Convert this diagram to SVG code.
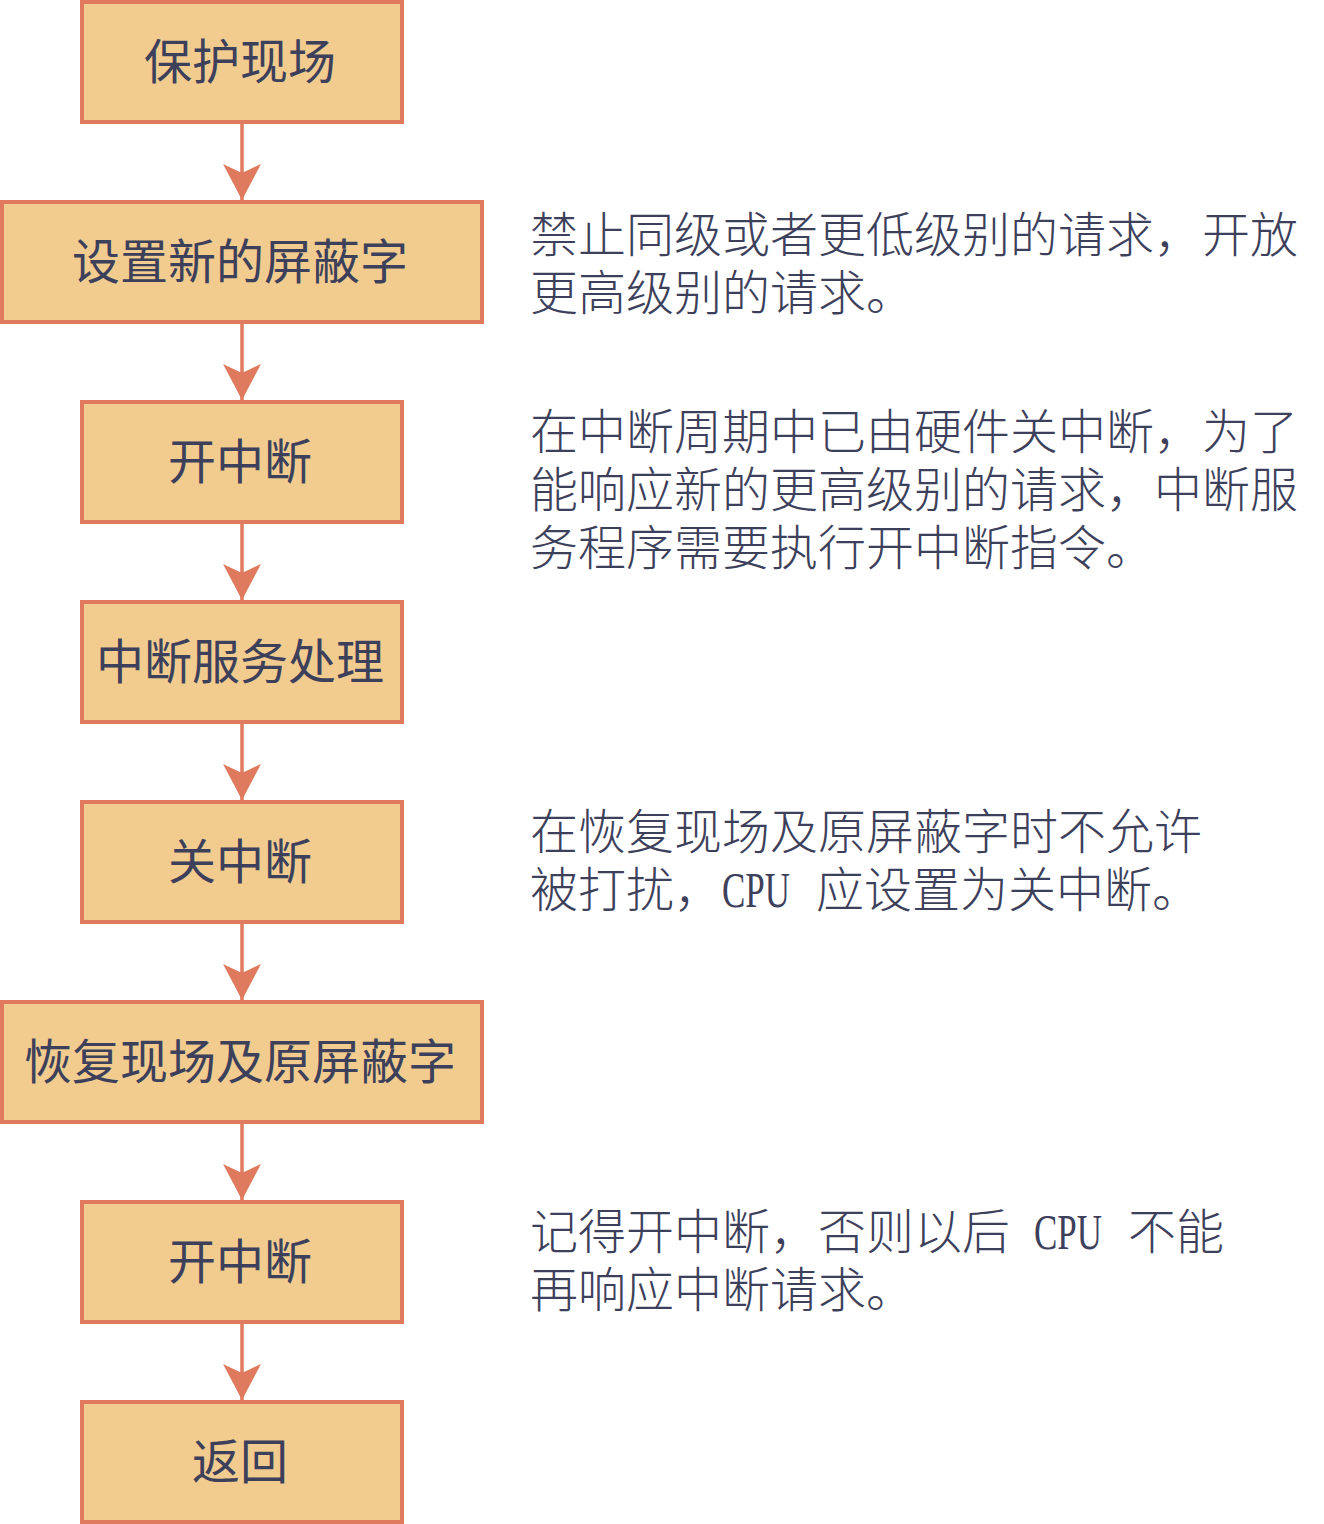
<svg xmlns="http://www.w3.org/2000/svg" width="1324" height="1524" viewBox="0 0 1324 1524">
<style>
.box{fill:#F2CC8F;stroke:#E07A5F;stroke-width:4}
.lbl{font-family:"Noto Sans CJK SC","Noto Sans",sans-serif;font-size:48px;fill:#3D405B;text-anchor:middle}
.note{font-family:"Noto Sans CJK SC","Noto Sans",sans-serif;font-size:48px;font-weight:300;fill:#3D405B}
.lat{font-family:"Liberation Serif",serif;font-size:50px;font-weight:400}
.conn{stroke:#E07A5F;stroke-width:3.5;fill:none;marker-end:url(#ah)}
</style>
<defs>
<marker id="ah" markerUnits="userSpaceOnUse" markerWidth="40" markerHeight="40" refX="0" refY="0" orient="auto" overflow="visible">
<path d="M0,0 L-36,-19 L-27,0 L-36,19 Z" fill="#E07A5F"/>
</marker>
</defs>
<rect width="1324" height="1524" fill="#FFFFFF"/>
<g id="connectors">
<line class="conn" x1="242" y1="124" x2="242" y2="200"/>
<line class="conn" x1="242" y1="324" x2="242" y2="400"/>
<line class="conn" x1="242" y1="524" x2="242" y2="600"/>
<line class="conn" x1="242" y1="724" x2="242" y2="800"/>
<line class="conn" x1="242" y1="924" x2="242" y2="1000"/>
<line class="conn" x1="242" y1="1124" x2="242" y2="1200"/>
<line class="conn" x1="242" y1="1324" x2="242" y2="1400"/>
</g>
<g id="n1"><rect class="box" x="82" y="2" width="320" height="120"/><text class="lbl" x="240" y="79">保护现场</text></g>
<g id="n2"><rect class="box" x="2" y="202" width="480" height="120"/><text class="lbl" x="240" y="279">设置新的屏蔽字</text></g>
<g id="n3"><rect class="box" x="82" y="402" width="320" height="120"/><text class="lbl" x="240" y="479">开中断</text></g>
<g id="n4"><rect class="box" x="82" y="602" width="320" height="120"/><text class="lbl" x="240" y="679">中断服务处理</text></g>
<g id="n5"><rect class="box" x="82" y="802" width="320" height="120"/><text class="lbl" x="240" y="879">关中断</text></g>
<g id="n6"><rect class="box" x="2" y="1002" width="480" height="120"/><text class="lbl" x="240" y="1079">恢复现场及原屏蔽字</text></g>
<g id="n7"><rect class="box" x="82" y="1202" width="320" height="120"/><text class="lbl" x="240" y="1279">开中断</text></g>
<g id="n8"><rect class="box" x="82" y="1402" width="320" height="120"/><text class="lbl" x="240" y="1479">返回</text></g>
<g id="note1">
<text class="note" x="530" y="252">禁止同级或者更低级别的请求，开放</text>
<text class="note" x="530" y="310">更高级别的请求。</text>
</g>
<g id="note2">
<text class="note" x="530" y="449">在中断周期中已由硬件关中断，为了</text>
<text class="note" x="530" y="507">能响应新的更高级别的请求，中断服</text>
<text class="note" x="530" y="565">务程序需要执行开中断指令。</text>
</g>
<g id="note3">
<text class="note" x="530" y="849">在恢复现场及原屏蔽字时不允许</text>
<text class="note" y="907"><tspan x="530">被打扰，</tspan><tspan class="lat" x="722" textLength="68" lengthAdjust="spacingAndGlyphs">CPU</tspan><tspan x="816">应设置为关中断。</tspan></text>
</g>
<g id="note4">
<text class="note" y="1249"><tspan x="530">记得开中断，否则以后</tspan><tspan class="lat" x="1034" textLength="68" lengthAdjust="spacingAndGlyphs">CPU</tspan><tspan x="1128">不能</tspan></text>
<text class="note" x="530" y="1307">再响应中断请求。</text>
</g>
</svg>
